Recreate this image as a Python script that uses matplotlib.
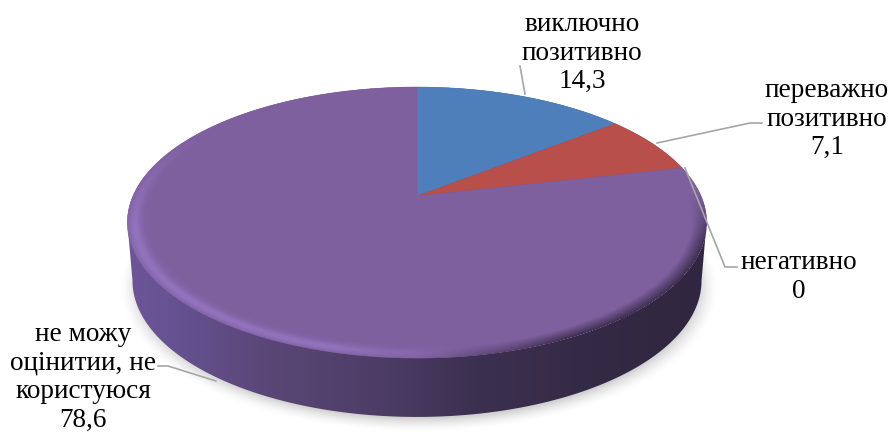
import numpy as np
import matplotlib
matplotlib.use("Agg")
import matplotlib.pyplot as plt
from matplotlib.patches import Polygon
from matplotlib.colors import LinearSegmentedColormap

labels = ["виключно\nпозитивно\n14,3", "переважно\nпозитивно\n7,1", "негативно\n0", "не можу\nоцінитии, не\nкористуюся\n78,6"]
values = [14.3, 7.1, 0.0, 78.6]
colors = ["#4e7fba", "#b94f4b", "#98b954", "#7f609f"]
label_xy = [(582, 53), (827, 119), (799, 277), (83, 377)]
leaders = [[(520, 66), (525, 94)],
           [(762, 123), (750, 123), (657, 143)],
           [(737, 267), (725, 267), (685, 168)],
           [(158, 366), (168, 366), (216, 381)]]

CX, CY, A, B, K = 417, 196, 284, 130.3, 0.196
DY, A2, B2 = 58, 279, 131


def proj(t, cy=CY, a=A, b=B):
    u, v = np.sin(t), np.cos(t)
    d = 1 + K * v
    return CX + a * u / d, cy - b * v / d


def radial(X, Y, cy=CY, a=A, b=B):
    x = (X - CX) / a
    y = (cy - Y) / b
    v = y / (1 - K * y)
    u = x * (1 + K * v)
    return np.hypot(u, v), np.arctan2(u, v)


fig = plt.figure(figsize=(8.89, 4.32), dpi=100)
ax = fig.add_axes([0, 0, 1, 1])
ax.axis("off")

xx, yy = np.meshgrid(np.arange(0, 889) + 0.5, np.arange(0, 432) + 0.5)
ext = (0, 889, 432, 0)

# soft shadow under the disc
r_s, _ = radial(xx - 2, yy - 5, CY + DY, A2, B2)
alpha = 0.28 * np.clip((1.05 - r_s) / 0.07, 0, 1) ** 1.6
sh = np.zeros(xx.shape + (4,))
sh[..., :3] = 0.35
sh[..., 3] = alpha
ax.imshow(sh, extent=ext, zorder=1, aspect="auto", interpolation="bilinear")

# side wall
t_ext = np.arccos(-K)
t_far = np.linspace(-t_ext, t_ext, 300)
t_near = np.linspace(t_ext, 2 * np.pi - t_ext, 300)
px1, py1 = proj(t_far)
px2, py2 = proj(t_near, CY + DY, A2, B2)
side_poly = Polygon(np.column_stack([np.r_[px1, px2], np.r_[py1, py2]]), closed=True,
                    transform=ax.transData, facecolor="none", edgecolor="none")
ax.add_patch(side_poly)
side_cmap = LinearSegmentedColormap.from_list("side", [
    (0.0, "#6c5699"), (0.1, "#65508f"), (0.25, "#594675"), (0.45, "#4b3c64"),
    (0.6, "#3c3050"), (0.8, "#352a45"), (1.0, "#30263f")])
grad = ((xx - 128) / 580).clip(0, 1)
im = ax.imshow(side_cmap(grad), extent=ext, zorder=2, aspect="auto", interpolation="bilinear")
im.set_clip_path(side_poly)

# top face: slices from the values
fractions = np.array(values) / sum(values)
edges = np.r_[0, np.cumsum(fractions)] * 2 * np.pi
for f0, f1, c in zip(edges[:-1], edges[1:], colors):
    if f1 - f0 <= 0:
        continue
    t = np.linspace(f0, f1, 400)
    px, py = proj(t)
    ax.add_patch(Polygon(np.column_stack([np.r_[CX, px], np.r_[CY, py]]), closed=True,
                         facecolor=c, edgecolor=c, lw=0.4, zorder=3))

# bevelled rim on the near edge
r, th = radial(xx, yy)
deg = np.degrees(np.mod(th, 2 * np.pi))
rim = np.zeros(xx.shape + (4,))
light = np.clip((deg - 170) / 25, 0, 1) * np.clip((300 - deg) / 45, 0, 1)
dark = np.clip((deg - 88) / 22, 0, 1) * np.clip((180 - deg) / 25, 0, 1)
ridge = np.exp(-((r - 0.975) / 0.022) ** 2)
a_l = light * ridge * 0.6
a_d = dark * np.clip((r - 0.95) / 0.05, 0, 1) * 0.9
tot = np.maximum(a_l + a_d, 1e-6)
rim[..., 0] = (a_l * 0.62 + a_d * 0.22) / tot
rim[..., 1] = (a_l * 0.50 + a_d * 0.17) / tot
rim[..., 2] = (a_l * 0.83 + a_d * 0.29) / tot
rim[..., 3] = np.clip(a_l + a_d, 0, 1) * (r <= 1.0)
ax.imshow(rim, extent=ext, zorder=4, aspect="auto", interpolation="bilinear")

# leader lines and labels
for pts in leaders:
    p = np.array(pts)
    ax.plot(p[:, 0], p[:, 1], color="#a6a6a6", lw=1.2, zorder=5, solid_joinstyle="miter")
for s, (x, y) in zip(labels, label_xy):
    ax.text(x, y, s, ha="center", va="center", family="Liberation Serif",
            fontsize=19.6, color="black", linespacing=1.19, zorder=6)

ax.set_xlim(0, 889)
ax.set_ylim(432, 0)
fig.savefig("out.png", dpi=100, facecolor="white")
